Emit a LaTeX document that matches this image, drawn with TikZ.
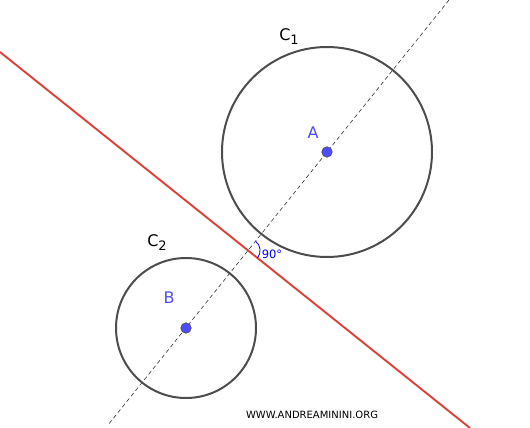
\documentclass[tikz,border=0pt]{standalone}
\usepackage{fontspec}
\setmainfont{DejaVu Sans}
\usetikzlibrary{angles}
\definecolor{circgray}{HTML}{4D4D4D}
\definecolor{linered}{HTML}{D9453F}
\definecolor{ptblue}{HTML}{4D4DFF}
\newcommand{\csub}[1]{\raisebox{-4pt}{\fontsize{13}{13}\selectfont #1}}
\tikzset{
  circ/.style={draw=circgray, line width=2pt},
  pt/.style={circle, fill=ptblue, draw=black!70, line width=0.6pt, inner sep=0pt, minimum size=10.5pt},
  ptlabel/.style={text=ptblue, font=\fontsize{16}{16}\selectfont},
  clabel/.style={text=black, font=\fontsize{16}{16}\selectfont}
}
\begin{document}
\begin{tikzpicture}[x=1pt, y=-1pt]
  \useasboundingbox (0,0) rectangle (530,428);

  % centres and the axis through them
  \coordinate (A) at (327,152);
  \coordinate (B) at (186,328);
  \coordinate (top) at (449,0);
  \coordinate (bot) at (108,425);
  \draw [black!80, line width=0.6pt, dash pattern=on 4pt off 3pt] (top) -- (bot);

  % circles
  \draw [circ] (A) circle [radius=105pt];
  \draw [circ] (B) circle [radius=70pt];
  \node [clabel] (c1) at (289,37) {C\csub{1}};
  \node [clabel] (c2) at (157,243) {C\csub{2}};

  % common tangent line
  \coordinate (r1) at (0,52);
  \coordinate (r2) at (470,428);
  \draw [linered, line width=2pt] (r1) -- (r2);

  % right angle
  \coordinate (P) at (248.1,250.5);
  \draw pic [draw=blue, line width=0.8pt, angle radius=12pt] {angle = r2--P--A};
  \node [text=blue, font=\fontsize{11.5}{11.5}\selectfont] (ang) at (272,254) {90°};

  % points
  \node [pt] (a) at (A) {};
  \node [pt] (b) at (B) {};
  \node [ptlabel] (la) at (313,133) {A};
  \node [ptlabel] (lb) at (169,298) {B};

  \node [font=\fontsize{10}{10}\selectfont] (site) at (312,415) {WWW.ANDREAMININI.ORG};
\end{tikzpicture}
\end{document}
